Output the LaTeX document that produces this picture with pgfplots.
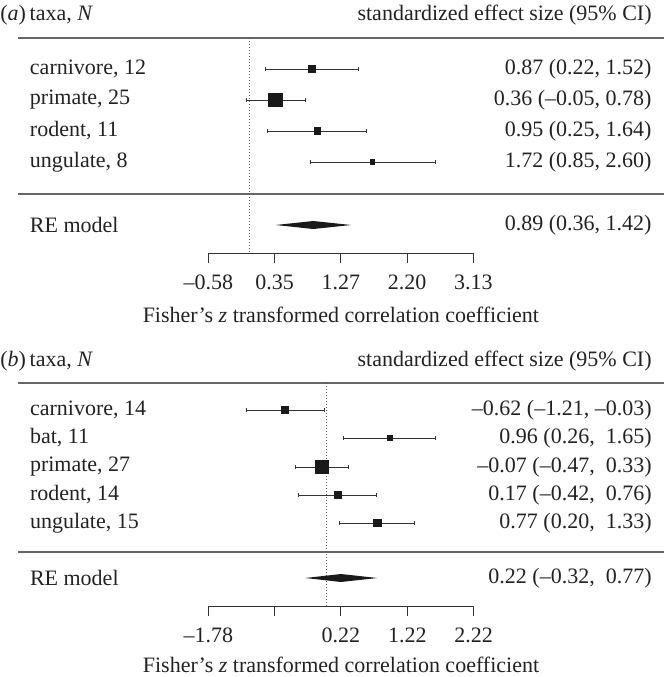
\documentclass[border=0pt]{standalone}
\usepackage{fontspec}
\setmainfont{Liberation Serif}
\usepackage{pgfplots}
\pgfplotsset{compat=1.18}
\definecolor{txt}{HTML}{222222}
\definecolor{rulec}{HTML}{666666}
\definecolor{ptc}{HTML}{1A1A1A}
\definecolor{cic}{HTML}{333333}
\definecolor{dotc}{HTML}{555555}
\pgfplotsset{
  ci/.style={only marks, mark=square*, mark size=#1, mark options={fill=ptc, draw=ptc, line width=0pt},
    error bars/.cd, x dir=both, x explicit,
    error bar style={line width=0.5pt, color=cic},
    error mark options={rotate=90, mark size=1pt, line width=0.5pt, color=cic}},
  rule/.style={rulec, line width=1pt, mark=none},
  dotl/.style={dotc, line width=0.5pt, dash pattern=on 0.5pt off 1pt, mark=none},
  diam/.style={fill=ptc, draw=none, mark=none},
  scaleax/.style={scale only axis, height=10pt, ymin=0, ymax=1,
    axis x line=bottom, axis y line=none, x axis line style={-, line width=0.5pt, color=cic},
    tick align=outside, major tick length=5pt, tick style={line width=0.5pt, color=cic},
    xticklabel style={text=txt, yshift=-2pt}},
}
\begin{document}
\fontsize{11}{13}\selectfont
\begin{tikzpicture}
\useasboundingbox (0pt,0pt) rectangle (332pt,338.5pt);
% ---------------- panel (a)
\begin{axis}[at={(0pt,338.5pt)}, anchor=north west, scale only axis, width=332pt, height=170pt,
  xmin=-3.496, xmax=5.797, ymin=0, ymax=340, y dir=reverse, hide axis, clip=false]
\node[anchor=west, inner sep=0, text=txt] at (axis cs:-3.496,15) {(\textit{a})\,taxa, \textit{N}};
\node[anchor=east, inner sep=0, text=txt] at (axis cs:5.629,15) {standardized effect size (95\% CI)};
\addplot[rule] coordinates {(-3.247,38) (5.797,38)};
\addplot[rule] coordinates {(-3.247,194) (5.797,194)};
\addplot[dotl] coordinates {(0,38) (0,253)};
\addplot[ci=1.75pt] coordinates {(0.87,69) += (0.65,0) -= (0.65,0)};
\addplot[ci=3.3pt] coordinates {(0.36,100) += (0.42,0) -= (0.41,0)};
\addplot[ci=1.6pt] coordinates {(0.95,131) += (0.69,0) -= (0.70,0)};
\addplot[ci=1.15pt] coordinates {(1.72,162) += (0.88,0) -= (0.87,0)};
\addplot[diam] coordinates {(0.36,225) (0.89,221) (1.42,225) (0.89,229)} -- cycle;
\node[anchor=west, inner sep=0, text=txt] at (axis cs:-3.082,69) {carnivore, 12};
\node[anchor=west, inner sep=0, text=txt] at (axis cs:-3.082,100) {primate, 25};
\node[anchor=west, inner sep=0, text=txt] at (axis cs:-3.082,131) {rodent, 11};
\node[anchor=west, inner sep=0, text=txt] at (axis cs:-3.082,162) {ungulate, 8};
\node[anchor=west, inner sep=0, text=txt] at (axis cs:-3.082,225) {RE model};
\node[anchor=east, inner sep=0, text=txt] at (axis cs:5.629,69) {0.87 (0.22, 1.52)};
\node[anchor=east, inner sep=0, text=txt] at (axis cs:5.629,100) {0.36 (–0.05, 0.78)};
\node[anchor=east, inner sep=0, text=txt] at (axis cs:5.629,131) {0.95 (0.25, 1.64)};
\node[anchor=east, inner sep=0, text=txt] at (axis cs:5.629,162) {1.72 (0.85, 2.60)};
\node[anchor=east, inner sep=0, text=txt] at (axis cs:5.629,225) {0.89 (0.36, 1.42)};
\node[inner sep=0, text=txt] at (axis cs:1.275,315) {Fisher’s \textit{z} transformed correlation coefficient};
\coordinate (sa) at (axis cs:-0.58,253);
\end{axis}
\begin{axis}[scaleax, at={(sa)}, anchor=south west, width=132.55pt, xmin=-0.58, xmax=3.13,
  xtick={-0.58,0.3475,1.275,2.2025,3.13}, xticklabels={–0.58,0.35,1.27,2.20,3.13}]
\addplot[draw=none] coordinates {(0,0)};
\end{axis}
% ---------------- panel (b)
\begin{axis}[at={(0pt,168.5pt)}, anchor=north west, scale only axis, width=332pt, height=168.5pt,
  xmin=-4.925, xmax=5.094, ymin=0, ymax=337, y dir=reverse, hide axis, clip=false]
\node[anchor=west, inner sep=0, text=txt] at (axis cs:-4.925,21) {(\textit{b})\,taxa, \textit{N}};
\node[anchor=east, inner sep=0, text=txt] at (axis cs:4.913,21) {standardized effect size (95\% CI)};
\addplot[rule] coordinates {(-4.656,43) (5.094,43)};
\addplot[rule] coordinates {(-4.656,212) (5.094,212)};
\addplot[dotl] coordinates {(0,43) (0,266)};
\addplot[ci=1.75pt] coordinates {(-0.62,70) += (0.59,0) -= (0.59,0)};
\addplot[ci=1.2pt] coordinates {(0.96,98) += (0.69,0) -= (0.70,0)};
\addplot[ci=3.3pt] coordinates {(-0.07,127) += (0.40,0) -= (0.40,0)};
\addplot[ci=1.75pt] coordinates {(0.17,155) += (0.59,0) -= (0.59,0)};
\addplot[ci=1.8pt] coordinates {(0.77,183) += (0.56,0) -= (0.57,0)};
\addplot[diam] coordinates {(-0.32,238) (0.22,234) (0.77,238) (0.22,242)} -- cycle;
\node[anchor=west, inner sep=0, text=txt] at (axis cs:-4.478,70) {carnivore, 14};
\node[anchor=west, inner sep=0, text=txt] at (axis cs:-4.478,98) {bat, 11};
\node[anchor=west, inner sep=0, text=txt] at (axis cs:-4.478,127) {primate, 27};
\node[anchor=west, inner sep=0, text=txt] at (axis cs:-4.478,155) {rodent, 14};
\node[anchor=west, inner sep=0, text=txt] at (axis cs:-4.478,183) {ungulate, 15};
\node[anchor=west, inner sep=0, text=txt] at (axis cs:-4.478,238) {RE model};
\node[anchor=east, inner sep=0, text=txt] at (axis cs:4.913,70) {–0.62 (–1.21, –0.03)};
\node[anchor=east, inner sep=0, text=txt] at (axis cs:4.913,98) {0.96 (0.26,\ \ 1.65)};
\node[anchor=east, inner sep=0, text=txt] at (axis cs:4.913,127) {–0.07 (–0.47,\ \ 0.33)};
\node[anchor=east, inner sep=0, text=txt] at (axis cs:4.913,155) {0.17 (–0.42,\ \ 0.76)};
\node[anchor=east, inner sep=0, text=txt] at (axis cs:4.913,183) {0.77 (0.20,\ \ 1.33)};
\node[anchor=east, inner sep=0, text=txt] at (axis cs:4.913,238) {0.22 (–0.32,\ \ 0.77)};
\node[inner sep=0, text=txt] at (axis cs:0.22,325) {Fisher’s \textit{z} transformed correlation coefficient};
\coordinate (sb) at (axis cs:-1.78,266);
\end{axis}
\begin{axis}[scaleax, at={(sb)}, anchor=south west, width=132.55pt, xmin=-1.78, xmax=2.22,
  xtick={-1.78,-0.78,0.22,1.22,2.22}, xticklabels={–1.78,,0.22,1.22,2.22}]
\addplot[draw=none] coordinates {(0,0)};
\end{axis}
\end{tikzpicture}
\end{document}
